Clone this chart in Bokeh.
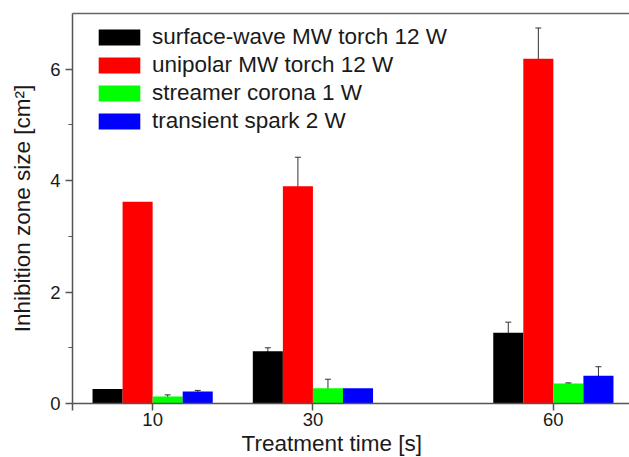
from bokeh.plotting import figure
from bokeh.models import (Range1d, Whisker, ColumnDataSource, TeeHead, FixedTicker,
                          LinearAxis, Legend, LegendItem, Title)
from bokeh.embed import file_html
from bokeh.resources import INLINE

# ---- data ----
times = [10, 30, 60]
series_names = ["surface-wave MW torch 12 W", "unipolar MW torch 12 W",
                "streamer corona 1 W", "transient spark 2 W"]
surface_wave = [0.26, 0.94, 1.27]
surface_wave_err = [0.0, 0.06, 0.19]
unipolar = [3.62, 3.90, 6.19]
unipolar_err = [0.0, 0.52, 0.55]
streamer = [0.125, 0.275, 0.36]
streamer_err = [0.03, 0.16, 0.01]
transient = [0.215, 0.275, 0.50]
transient_err = [0.02, 0.0, 0.16]
x_ticks = [0, 10, 30, 60]
y_ticks = [0, 2, 4, 6]
y_minor = [1, 3, 5]

values = [surface_wave, unipolar, streamer, transient]
errors = [surface_wave_err, unipolar_err, streamer_err, transient_err]
colors = ["#000000", "#ff0000", "#00ff00", "#0000ff"]
offsets = [-1.5, -0.5, 0.5, 1.5]
bar_w = 3.75

FONT = "Liberation Sans"
TXT = "#1a1a1a"
AX = "#555555"

p = figure(width=629, height=457, x_range=Range1d(0, 69.5), y_range=Range1d(0, 7),
           output_backend="svg", toolbar_location=None,
           min_border_left=72, min_border_right=0, min_border_top=13, min_border_bottom=54)
p.outline_line_color = None
p.grid.visible = False
p.background_fill_color = "white"

renderers = []
for vals, errs, col, off in zip(values, errors, colors, offsets):
    xs = [t + off * bar_w for t in times]
    src = ColumnDataSource(dict(x=xs, top=vals))
    r = p.vbar(x="x", top="top", bottom=0, width=bar_w, source=src,
               fill_color=col, line_color=None)
    renderers.append(r)
    ex = [x for x, e in zip(xs, errs) if e > 0]
    eu = [v + e for v, e in zip(vals, errs) if e > 0]
    el = [v - e for v, e in zip(vals, errs) if e > 0]
    esrc = ColumnDataSource(dict(x=ex, upper=eu, lower=el))
    w = Whisker(base="x", upper="upper", lower="lower", source=esrc,
                line_color="#333333", line_width=1,
                upper_head=TeeHead(size=6, line_color="#333333", line_width=1),
                lower_head=TeeHead(size=6, line_color="#333333", line_width=1))
    p.add_layout(w)

# axes
for ax in (p.xaxis[0], p.yaxis[0]):
    ax.axis_line_color = AX
    ax.axis_line_width = 1.5
    ax.major_tick_line_color = AX
    ax.major_tick_line_width = 1.5
    ax.minor_tick_line_color = AX
    ax.major_tick_in = 0
    ax.major_tick_out = 7
    ax.minor_tick_in = 0
    ax.minor_tick_out = 4
    ax.major_label_text_font = FONT
    ax.major_label_text_font_size = "18.5px"
    ax.major_label_text_color = TXT
    ax.axis_label_text_font = FONT
    ax.axis_label_text_font_size = "22.5px"
    ax.axis_label_text_font_style = "normal"
    ax.axis_label_text_color = TXT

p.xaxis.ticker = FixedTicker(ticks=x_ticks, minor_ticks=[])
p.xaxis.major_label_overrides = {0: ""}
p.xaxis.major_label_standoff = 2

x_title = Title(text="Treatment time [s]", align="left", offset=169, standoff=0,
                text_font=FONT, text_font_size="22.5px", text_font_style="normal",
                text_color=TXT)
p.add_layout(x_title, "below")

p.yaxis.ticker = FixedTicker(ticks=y_ticks, minor_ticks=y_minor)
p.yaxis.axis_label = "Inhibition zone size [cm²]"
p.yaxis.major_label_standoff = 5
p.yaxis.axis_label_standoff = 12

top_axis = LinearAxis(ticker=FixedTicker(ticks=[]), axis_line_color="#666666",
                      axis_line_width=1.5, major_tick_line_color=None,
                      minor_tick_line_color=None, major_label_text_font_size="0px")
p.add_layout(top_axis, "above")

legend = Legend(items=[LegendItem(label=n, renderers=[r]) for n, r in zip(series_names, renderers)],
                location=(21, 269), padding=0, margin=0, spacing=2,
                glyph_width=52, glyph_height=20, label_height=20, label_standoff=7,
                label_text_font=FONT, label_text_font_size="22.5px", label_text_color=TXT,
                border_line_color=None, background_fill_alpha=0)
p.add_layout(legend)

open("out.html", "w").write(file_html(p, INLINE))
